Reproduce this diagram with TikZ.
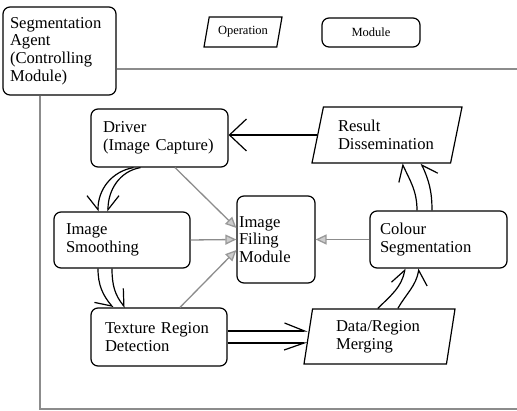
\documentclass[tikz,border=0pt]{standalone}
\usepackage{fontspec}
\setmainfont{Liberation Serif}
\usetikzlibrary{arrows.meta,shapes.geometric}
\tikzset{modbox/.style={draw,line width=1.2pt,rounded corners=7pt,align=left,inner ysep=1pt,font=\fontsize{16.6}{17.7}\selectfont}}
\tikzset{opbox/.style={draw,line width=1.2pt,trapezium,trapezium stretches body=true,align=left,inner ysep=1pt,font=\fontsize{16.6}{17.7}\selectfont}}
\tikzset{flow/.style={line width=1.2pt}}
\tikzset{harpL/.style={flow,-{Straight Barb[left,#1]}},harpL/.default={length=14pt,width=22pt}}
\tikzset{harpR/.style={flow,-{Straight Barb[right,#1]}},harpR/.default={length=14pt,width=22pt}}
\tikzset{feed/.style={draw=black!45,line width=1.3pt,-{Triangle[length=11pt,width=10pt,color=black!40,fill=black!20]}}}
\tikzset{frame/.style={draw=black!45,line width=1.3pt}}

\begin{document}
\begin{tikzpicture}[x=1pt,y=1pt]
	\useasboundingbox (0,0) rectangle (517,411);
	% legende
	\node[modbox, minimum width=113pt, minimum height=88pt, text width=99pt] (agent) at (59.5,360) {Segmentation\\Agent\\(Controlling\\Module)};
	\node[opbox, trapezium left angle=68, trapezium right angle=112, minimum width=78pt, minimum height=30pt, font=\fontsize{12.5}{14}\selectfont] (oper) at (243,379) {Operation};
	\node[modbox, minimum width=98pt, minimum height=29pt, font=\fontsize{12.5}{14}\selectfont] (modl) at (371,378.5) {Module};
	% cadre
	\draw[frame] (agent.east |- 0,342) -- (517,342);
	\draw[frame] (40,0 |- agent.south) -- (40,2) -- (517,2);
	% modules
	\node[modbox, minimum width=137pt, minimum height=58pt, text width=113pt] (drv) at (159.5,273) {Driver\\(Image Capture)};
	\node[modbox, minimum width=136pt, minimum height=56pt, text width=112pt] (smo) at (122,171) {Image\\Smoothing};
	\node[modbox, minimum width=78pt, minimum height=87pt, text width=74pt, inner xsep=2pt] (fil) at (276,171.5) {Image\\Filing\\Module};
	\node[modbox, minimum width=137pt, minimum height=57pt, text width=117pt] (col) at (438.5,171.5) {Colour\\Segmentation};
	\node[modbox, minimum width=136pt, minimum height=58pt, text width=108pt] (tex) at (159,74) {Texture Region\\Detection};
	\node[opbox, trapezium left angle=70, trapezium right angle=110, minimum width=150pt, minimum height=56pt, text width=98pt] (res) at (387,276) {Result\\Dissemination};
	\node[opbox, trapezium left angle=76, trapezium right angle=104, minimum width=151pt, minimum height=55pt, text width=87pt] (dat) at (379.5,74.5) {Data/Region\\Merging};
	% cycle
	\draw[flow,-{Straight Barb[length=17pt,width=32pt]}] (res.left side) -- (res.left side -| drv.east);
	\draw[harpR] ([xshift=-26pt]drv.south) to[out=190,in=90] ([xshift=-24pt]smo.north);
	\draw[harpL] ([xshift=-19pt]drv.south) to[out=190,in=90] ([xshift=-14pt]smo.north);
	\draw[harpR] ([xshift=-24pt]smo.south) to[out=-90,in=130] ([xshift=-46pt]tex.north);
	\draw[harpL] ([xshift=-10pt]smo.south) to[out=-90,in=130] ([xshift=-34pt]tex.north);
	\draw[harpL={length=20pt,width=16pt}] ([yshift=6pt]tex.east) -- ([yshift=6pt]tex.east -| dat.left side);
	\draw[harpR={length=20pt,width=14pt}] ([yshift=-6pt]tex.east) -- ([yshift=-6pt]tex.east -| dat.left side);
	\draw[harpL] ([xshift=-6pt]dat.top side) to[out=45,in=-100] ([xshift=-33.5pt]col.south);
	\draw[harpR] ([xshift=14pt]dat.top side) to[out=60,in=-100] ([xshift=-19.5pt]col.south);
	\draw[harpL] ([xshift=-21.5pt]col.north) to[out=90,in=-65] ([xshift=21pt]res.bottom side);
	\draw[harpR] ([xshift=-6.5pt]col.north) to[out=90,in=-65] ([xshift=40pt]res.bottom side);
	% vers le module de fichiers
	\draw[feed] ([xshift=15.5pt]drv.south) -- ([yshift=11.5pt]fil.west);
	\draw[feed] (smo.east) -- (fil.west);
	\draw[feed] ([xshift=21pt]tex.north) -- ([yshift=-10.5pt]fil.west);
	\draw[feed] (col.west) -- (fil.east);
\end{tikzpicture}
\end{document}
